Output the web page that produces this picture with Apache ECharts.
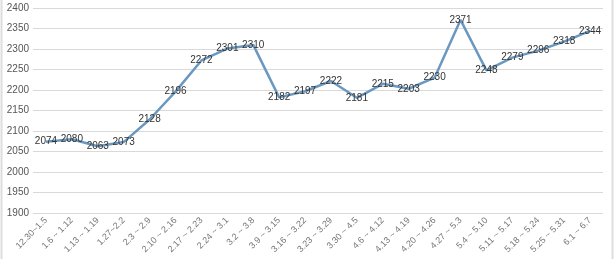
<!DOCTYPE html>
<html><head><meta charset="utf-8">
<script src="https://cdn.jsdelivr.net/npm/echarts@6/dist/echarts.min.js"></script>
<style>html,body{margin:0;padding:0;background:#fff}#c{width:616px;height:259px}</style>
</head><body><div id="c"></div>
<script>
const categories = ["12.30~1.5","1.6 ~ 1.12","1.13 ~ 1.19","1.27~2.2","2.3 ~ 2.9","2.10 ~ 2.16","2.17 ~ 2.23","2.24 ~ 3.1","3.2 ~ 3.8","3.9 ~ 3.15","3.16 ~ 3.22","3.23 ~ 3.29","3.30 ~ 4.5","4.6 ~ 4.12","4.13 ~ 4.19","4.20 ~ 4.26","4.27 ~ 5.3","5.4 ~ 5.10","5.11 ~ 5.17","5.18 ~ 5.24","5.25 ~ 5.31","6.1 ~ 6.7"];
const values = [2074,2080,2063,2073,2128,2196,2272,2301,2310,2182,2197,2222,2181,2215,2203,2230,2371,2248,2279,2296,2318,2344];
const yMin = 1900, yMax = 2400, yStep = 50;
const chart = echarts.init(document.getElementById('c'));
chart.setOption({
  animation:false,
  grid:{left:33,right:13,top:8,bottom:46},
  graphic:[
    {type:'line',shape:{x1:1.5,y1:0,x2:1.5,y2:259},style:{stroke:'#ddd',lineWidth:2}},
    {type:'line',shape:{x1:612.5,y1:0,x2:612.5,y2:259},style:{stroke:'#ddd',lineWidth:2}}
  ],
  xAxis:{type:'category',data:categories,boundaryGap:true,
    axisLine:{show:false},axisTick:{show:false},
    axisLabel:{rotate:45,fontSize:9,color:'#777',margin:6,interval:0,fontFamily:'Liberation Sans'}},
  yAxis:{type:'value',min:yMin,max:yMax,interval:yStep,
    axisLine:{show:false},axisTick:{show:false},
    axisLabel:{fontSize:10,color:'#555',margin:4,fontFamily:'Liberation Sans',formatter:v=>String(v)},
    splitLine:{lineStyle:{color:'#d9d9d9',width:1}}},
  series:[{type:'line',data:values,symbol:'circle',symbolSize:0,showSymbol:true,
    lineStyle:{color:'#6a98c0',width:2.5},itemStyle:{color:'#6a98c0'},
    label:{show:true,position:'inside',fontSize:10,color:'#333',fontFamily:'Liberation Sans'}}]
});
</script></body></html>
